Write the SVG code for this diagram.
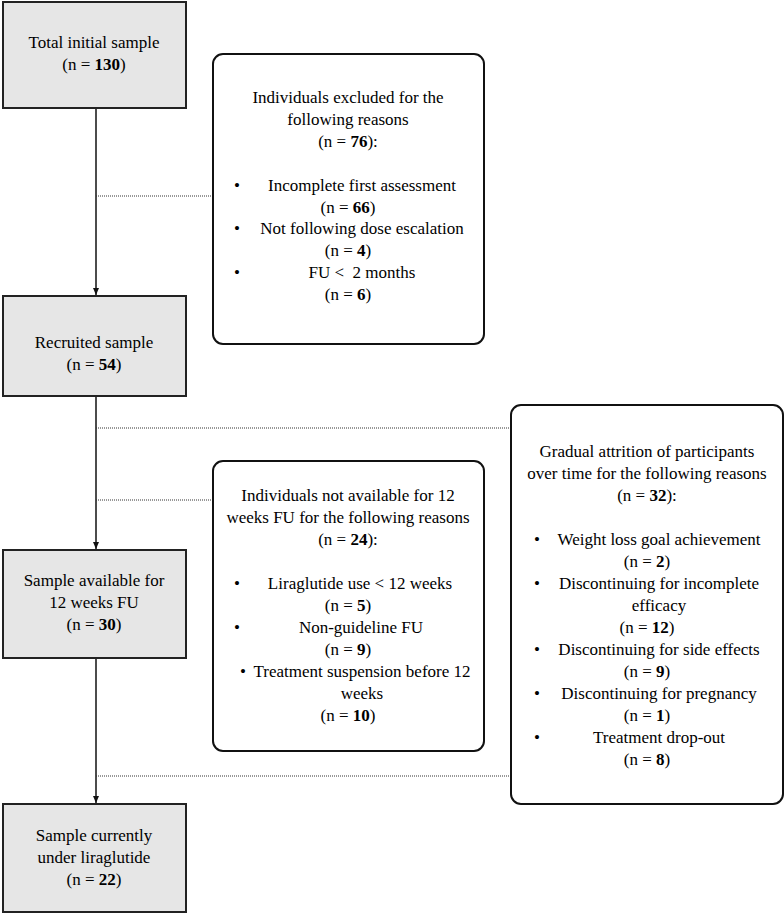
<svg xmlns="http://www.w3.org/2000/svg" width="784" height="914" viewBox="0 0 784 914">
<style>
text{font-family:"Liberation Serif","Times New Roman",serif;font-size:17px;fill:#000;text-anchor:middle}
.b{font-weight:bold}
.bul{text-anchor:start}
.sq{fill:#e6e6e6;stroke:#222;stroke-width:2}
.rd{fill:#fff;stroke:#111;stroke-width:2}
.ln{stroke:#111;stroke-width:1.5;fill:none}
.dt{stroke:#333;stroke-width:1;stroke-dasharray:1 1;fill:none}
</style>
<defs>
<marker id="ah" markerWidth="7" markerHeight="6" refX="7" refY="3" orient="auto" markerUnits="userSpaceOnUse">
<path d="M0,0 L7,3 L0,6 z" fill="#111"/>
</marker>
</defs>
<g id="connectors">
<line class="ln" x1="96" y1="108" x2="96" y2="295" marker-end="url(#ah)"/>
<line class="dt" x1="96" y1="196" x2="212" y2="196"/>
<line class="ln" x1="96" y1="397" x2="96" y2="549" marker-end="url(#ah)"/>
<line class="dt" x1="96" y1="428" x2="510" y2="428"/>
<line class="dt" x1="96" y1="500" x2="212" y2="500"/>
<line class="ln" x1="96" y1="659" x2="96" y2="803" marker-end="url(#ah)"/>
<line class="dt" x1="96" y1="776" x2="510" y2="776"/>
</g>
<g id="total">
<rect class="sq" x="3" y="2" width="183" height="106"/>
<text x="94" y="48">Total initial sample</text>
<text x="94" y="70">(n = <tspan class="b">130</tspan>)</text>
</g>
<g id="excluded">
<rect class="rd" x="213" y="54" width="271" height="290" rx="10"/>
<text x="348" y="103">Individuals excluded for the</text>
<text x="348" y="125">following reasons</text>
<text x="348" y="147">(n = <tspan class="b">76</tspan>):</text>
<text class="bul" x="234" y="191">•</text>
<text x="362" y="191">Incomplete first assessment</text>
<text x="348" y="213">(n = <tspan class="b">66</tspan>)</text>
<text class="bul" x="234" y="234">•</text>
<text x="362" y="234">Not following dose escalation</text>
<text x="348" y="256">(n = <tspan class="b">4</tspan>)</text>
<text class="bul" x="234" y="278">•</text>
<text x="362" y="278" xml:space="preserve">FU &lt;  2 months</text>
<text x="348" y="300">(n = <tspan class="b">6</tspan>)</text>
</g>
<g id="recruited">
<rect class="sq" x="3" y="296" width="183" height="100"/>
<text x="94" y="348">Recruited sample</text>
<text x="94" y="370">(n = <tspan class="b">54</tspan>)</text>
</g>
<g id="attrition">
<rect class="rd" x="511" y="405" width="272" height="399" rx="10"/>
<text x="647" y="457">Gradual attrition of participants</text>
<text x="647" y="479">over time for the following reasons</text>
<text x="647" y="501">(n = <tspan class="b">32</tspan>):</text>
<text class="bul" x="534" y="545">•</text>
<text x="659" y="545">Weight loss goal achievement</text>
<text x="647" y="567">(n = <tspan class="b">2</tspan>)</text>
<text class="bul" x="534" y="589">•</text>
<text x="659" y="589">Discontinuing for incomplete</text>
<text x="659" y="611">efficacy</text>
<text x="647" y="633">(n = <tspan class="b">12</tspan>)</text>
<text class="bul" x="534" y="655">•</text>
<text x="659" y="655">Discontinuing for side effects</text>
<text x="647" y="677">(n = <tspan class="b">9</tspan>)</text>
<text class="bul" x="534" y="699">•</text>
<text x="659" y="699">Discontinuing for pregnancy</text>
<text x="647" y="721">(n = <tspan class="b">1</tspan>)</text>
<text class="bul" x="534" y="743">•</text>
<text x="659" y="743">Treatment drop-out</text>
<text x="647" y="765">(n = <tspan class="b">8</tspan>)</text>
</g>
<g id="notavailable">
<rect class="rd" x="213" y="461" width="271" height="290" rx="10"/>
<text x="348" y="501">Individuals not available for 12</text>
<text x="348" y="523">weeks FU for the following reasons</text>
<text x="348" y="545">(n = <tspan class="b">24</tspan>):</text>
<text class="bul" x="234" y="589">•</text>
<text x="360" y="589">Liraglutide use &lt; 12 weeks</text>
<text x="348" y="611">(n = <tspan class="b">5</tspan>)</text>
<text class="bul" x="234" y="633">•</text>
<text x="361" y="633">Non-guideline FU</text>
<text x="348" y="655">(n = <tspan class="b">9</tspan>)</text>
<text class="bul" x="240" y="677">•</text>
<text x="362" y="677">Treatment suspension before 12</text>
<text x="362" y="699">weeks</text>
<text x="348" y="721">(n = <tspan class="b">10</tspan>)</text>
</g>
<g id="available12">
<rect class="sq" x="3" y="550" width="183" height="108"/>
<text x="94" y="586">Sample available for</text>
<text x="94" y="608">12 weeks FU</text>
<text x="94" y="630">(n = <tspan class="b">30</tspan>)</text>
</g>
<g id="current">
<rect class="sq" x="3" y="804" width="183" height="108"/>
<text x="94" y="841">Sample currently</text>
<text x="94" y="863">under liraglutide</text>
<text x="94" y="885">(n = <tspan class="b">22</tspan>)</text>
</g>
</svg>
